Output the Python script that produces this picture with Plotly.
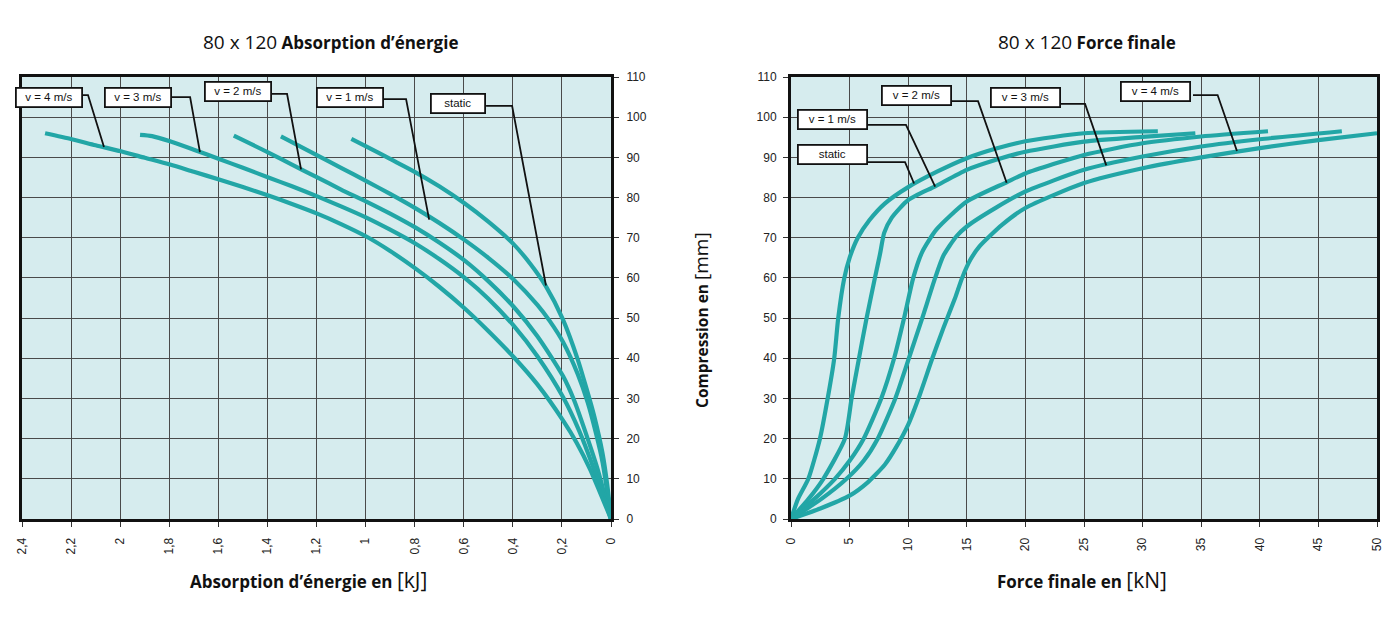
import plotly.graph_objects as go

# ---------------- data ----------------
series_names = ["static", "v = 1 m/s", "v = 2 m/s", "v = 3 m/s", "v = 4 m/s"]

# Left chart: energy absorption [kJ] vs compression [mm]
energy_static = [0, 0.014, 0.035, 0.068, 0.1, 0.136, 0.197, 0.265, 0.33, 0.4, 0.5, 0.6, 0.7, 0.8, 0.9, 1.0, 1.058]
comp_e_static = [0, 7.9, 16.5, 25.5, 32.5, 39.8, 49.8, 57.9, 63.6, 68.6, 74.0, 78.7, 82.8, 86.4, 89.6, 92.8, 94.6]
energy_v1 = [0, 0.034, 0.062, 0.095, 0.135, 0.195, 0.25, 0.3, 0.395, 0.5, 0.596, 0.7, 0.796, 0.9, 0.997, 1.1, 1.197, 1.345]
comp_e_v1 = [0, 14.0, 21.5, 29.0, 36.0, 44.0, 49.3, 53.3, 59.5, 65.0, 69.4, 73.7, 77.3, 80.9, 84.1, 87.4, 90.5, 95.2]
energy_v2 = [0, 0.055, 0.109, 0.15, 0.195, 0.3, 0.395, 0.5, 0.596, 0.7, 0.796, 0.9, 0.997, 1.1, 1.197, 1.3, 1.396, 1.537]
comp_e_v2 = [0, 12.5, 22.5, 29.5, 35.5, 45.5, 52.7, 59.2, 64.3, 68.8, 72.5, 76.0, 79.0, 82.0, 85.0, 88.2, 91.2, 95.4]
energy_v3 = [0, 0.07, 0.13, 0.195, 0.3, 0.395, 0.5, 0.596, 0.7, 0.796, 0.9, 0.997, 1.1, 1.197, 1.3, 1.396, 1.5, 1.597, 1.7, 1.797, 1.87, 1.919]
comp_e_v3 = [0, 12.5, 22.0, 30.3, 40.5, 48.0, 54.8, 60.0, 64.7, 68.5, 72.0, 75.0, 77.8, 80.3, 82.8, 85.0, 87.4, 89.6, 91.9, 94.0, 95.3, 95.6]
energy_v4 = [0, 0.086, 0.14, 0.195, 0.3, 0.395, 0.5, 0.596, 0.7, 0.796, 0.9, 0.997, 1.1, 1.197, 1.3, 1.396, 1.5, 1.597, 1.7, 1.797, 1.9, 1.997, 2.1, 2.197, 2.306]
comp_e_v4 = [0, 12.5, 19.0, 24.5, 33.5, 40.2, 46.8, 52.4, 57.8, 62.3, 66.7, 70.3, 73.4, 76.0, 78.4, 80.5, 82.6, 84.5, 86.4, 88.2, 89.9, 91.5, 93.0, 94.5, 96.0]

# Right chart: final force [kN] vs compression [mm]
force_static = [0, 0.6, 1.48, 2.47, 3.13, 3.69, 4.03, 4.55, 5.0, 5.7, 6.7, 8.0, 10.0, 12.5, 15, 17.5, 20, 25, 31.3]
comp_f_static = [0, 5, 10, 20, 30, 40, 50, 60, 65, 70, 74.4, 78.5, 82.6, 86.5, 89.8, 92.2, 94.0, 96.0, 96.5]
force_v1 = [0, 1.5, 2.76, 4.6, 5.17, 5.8, 6.45, 7.16, 7.6, 7.95, 8.6, 10.0, 12.3, 15, 17.5, 20, 25, 30, 34.5]
comp_f_v1 = [0, 5, 10, 20, 30, 40, 50, 60, 66, 71.2, 75.0, 79.4, 82.8, 86.9, 89.4, 91.4, 93.9, 95.1, 96.0]
force_v2 = [0, 2.0, 3.75, 5.0, 6.2, 7.7, 8.8, 9.65, 10.43, 11.2, 12.4, 15, 18.4, 20, 25, 30, 35, 40.7]
comp_f_v2 = [0, 5, 10, 14.5, 20, 30, 40, 50, 60, 66.5, 72, 79, 83.8, 86, 90.6, 93.5, 95.2, 96.5]
force_v3 = [0, 2.6, 4.74, 6.2, 7.4, 8.9, 10.06, 11.2, 12.3, 13.0, 14.1, 15, 17.5, 20, 25, 30, 35, 40, 47]
comp_f_v3 = [0, 5, 10, 14.5, 20, 30, 40, 50, 60, 65.5, 70.3, 72.8, 77.5, 81.5, 86.9, 90.2, 92.7, 94.5, 96.5]
force_v4 = [0, 2.5, 5, 6.5, 8, 9, 10, 11, 12, 13, 14, 14.6, 15.3, 16.1, 18, 20, 25, 30, 35, 40, 45, 50]
comp_f_v4 = [0, 2.6, 5.8, 9, 13.5, 18, 23.5, 31, 39.5, 47.5, 55, 60, 64.5, 67.9, 73.2, 77.4, 83.6, 87.3, 90.0, 92.3, 94.3, 96.0]

energy_ticks = [2.4, 2.2, 2.0, 1.8, 1.6, 1.4, 1.2, 1.0, 0.8, 0.6, 0.4, 0.2, 0]
energy_ticktext = ["2,4", "2,2", "2", "1,8", "1,6", "1,4", "1,2", "1", "0,8", "0,6", "0,4", "0,2", "0"]
force_ticks = [0, 5, 10, 15, 20, 25, 30, 35, 40, 45, 50]
comp_ticks = [0, 10, 20, 30, 40, 50, 60, 70, 80, 90, 100, 110]

# label boxes: (text, box centre x, box centre y, leader polyline x, leader polyline y)
left_labels = [
    ("v = 4 m/s", 2.29, 105.0, [2.152, 2.131, 2.066], [105.5, 105.5, 92.6]),
    ("v = 3 m/s", 1.927, 105.0, [1.789, 1.715, 1.675], [105.0, 105.0, 91.3]),
    ("v = 2 m/s", 1.52, 106.3, [1.398, 1.320, 1.263], [105.8, 105.8, 87.0]),
    ("v = 1 m/s", 1.063, 104.8, [0.949, 0.835, 0.741], [104.5, 104.5, 74.5]),
    ("static", 0.623, 103.5, [0.509, 0.403, 0.265], [102.8, 102.8, 58.1]),
]
right_labels = [
    ("static", 3.5, 90.6, [6.57, 9.73, 10.5], [88.8, 88.8, 83.5]),
    ("v = 1 m/s", 3.5, 99.3, [6.57, 9.81, 12.3], [98.1, 98.1, 82.7]),
    ("v = 2 m/s", 10.67, 105.3, [13.57, 15.96, 18.4], [104.0, 104.0, 83.7]),
    ("v = 3 m/s", 19.97, 105.0, [22.78, 25.09, 26.9], [103.3, 103.3, 88.0]),
    ("v = 4 m/s", 31.1, 106.5, [34.3, 36.4, 38.05], [105.5, 105.5, 91.6]),
]

# ---------------- style ----------------
TEAL = "#22a6a6"
BG = "#d6ecee"
GRID = "#4a4a4a"
TICKFONT = dict(family="Liberation Sans, Arial", size=12, color="#222")
TITLEFONT = "Open Sans, Lato, sans-serif"

W, H = 1393, 621
def px(xp):
    return xp / W
def py(yp):
    return 1 - yp / H

fig = go.Figure()

left = [(energy_static, comp_e_static), (energy_v1, comp_e_v1), (energy_v2, comp_e_v2),
        (energy_v3, comp_e_v3), (energy_v4, comp_e_v4)]
right = [(force_static, comp_f_static), (force_v1, comp_f_v1), (force_v2, comp_f_v2),
         (force_v3, comp_f_v3), (force_v4, comp_f_v4)]

for name, (x, y) in zip(series_names, left):
    fig.add_trace(go.Scatter(x=x, y=y, mode="lines", name=name, xaxis="x", yaxis="y",
                             line=dict(color=TEAL, width=4.2, shape="spline", smoothing=0.7),
                             showlegend=False))
for name, (x, y) in zip(series_names, right):
    fig.add_trace(go.Scatter(x=x, y=y, mode="lines", name=name, xaxis="x2", yaxis="y2",
                             line=dict(color=TEAL, width=4.2, shape="spline", smoothing=0.6),
                             showlegend=False))

# leader lines
for (txt, bx, by, lx, ly) in left_labels:
    fig.add_trace(go.Scatter(x=lx, y=ly, mode="lines", xaxis="x", yaxis="y",
                             line=dict(color="#111", width=1.8), showlegend=False, hoverinfo="skip"))
for (txt, bx, by, lx, ly) in right_labels:
    fig.add_trace(go.Scatter(x=lx, y=ly, mode="lines", xaxis="x2", yaxis="y2",
                             line=dict(color="#111", width=1.8), showlegend=False, hoverinfo="skip"))

axis_common = dict(showgrid=True, gridcolor=GRID, gridwidth=1, showline=True, linecolor="#111",
                   linewidth=3, mirror=True, ticks="outside", ticklen=5, tickcolor="#333",
                   tickfont=TICKFONT, zeroline=False, automargin=False)

ydom = [py(519), py(77)]
fig.update_layout(
    width=W, height=H, margin=dict(l=0, r=0, t=0, b=0, autoexpand=False),
    paper_bgcolor="white", plot_bgcolor=BG,
    xaxis=dict(domain=[px(22), px(611)], range=[2.4, 0], tickvals=energy_ticks,
               ticktext=energy_ticktext, tickangle=-90, anchor="y", ticklabelstandoff=6,
               **axis_common),
    yaxis=dict(domain=ydom, range=[0, 110], tickvals=comp_ticks, side="right", anchor="x",
               ticklabelstandoff=5, **axis_common),
    xaxis2=dict(domain=[px(791), px(1377)], range=[0, 50], tickvals=force_ticks,
                tickangle=-90, anchor="y2", ticklabelstandoff=6, **axis_common),
    yaxis2=dict(domain=ydom, range=[0, 110], tickvals=comp_ticks, side="left", anchor="x2",
                ticklabelstandoff=4, **axis_common),
)

LABELFONT = dict(family="Liberation Sans, Arial", size=11.5, color="#111")
annotations = []
for (txt, bx, by, lx, ly) in left_labels:
    annotations.append(dict(x=bx, y=by, xref="x", yref="y", text=txt, showarrow=False,
                            xanchor="center", yanchor="middle",
                            font=LABELFONT, bgcolor="white", bordercolor="#111", borderwidth=1.8,
                            width=62 if txt != "static" else 50, height=15, borderpad=1))
for (txt, bx, by, lx, ly) in right_labels:
    annotations.append(dict(x=bx, y=by, xref="x2", yref="y2", text=txt, showarrow=False,
                            xanchor="center", yanchor="middle",
                            font=LABELFONT, bgcolor="white", bordercolor="#111", borderwidth=1.8,
                            width=65, height=15, borderpad=1))

def paper_text(x, y, text, size, angle=0):
    return dict(x=px(x), y=py(y), xref="paper", yref="paper", showarrow=False,
                xanchor="center", yanchor="middle", textangle=angle, text=text,
                font=dict(family=TITLEFONT, size=size, color="#111"))

# titles
annotations.append(paper_text(330, 42, "<span style='font-size:19px'>80 x 120</span> <b>Absorption d’énergie</b>", 17))
annotations.append(paper_text(1087, 42, "<span style='font-size:19px'>80 x 120</span> <b>Force finale</b>", 17))
annotations.append(paper_text(308, 580, "<b>Absorption d’énergie en </b><span style='font-size:21px'>[kJ]</span>", 17))
annotations.append(paper_text(1082, 580, "<b>Force finale en </b><span style='font-size:21px'>[kN]</span>", 17))
annotations.append(paper_text(701, 320, "<b>Compression en </b><span style='font-size:19px'>[mm]</span>", 15.5, -90))

fig.update_layout(annotations=annotations)
fig.write_html("out.html")
